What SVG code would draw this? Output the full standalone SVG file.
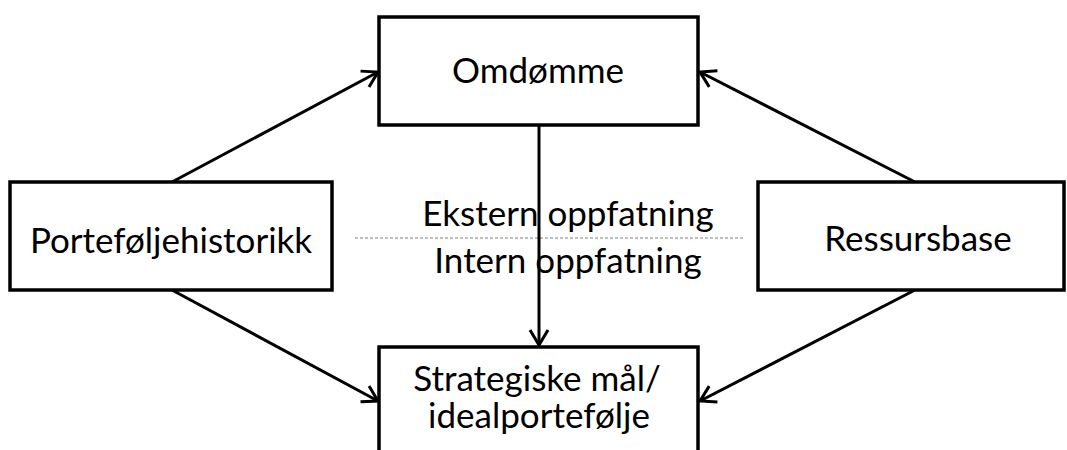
<svg xmlns="http://www.w3.org/2000/svg" width="1067" height="450" viewBox="0 0 1067 450">
  <style>
    .box { fill: #ffffff; stroke: #000000; stroke-width: 3.5; }
    .label { font-family: "Lato", "Liberation Sans", sans-serif; font-size: 35px; fill: #000000; text-anchor: middle; }
    .edge { fill: none; stroke: #000000; stroke-width: 3; marker-end: url(#arrow); }
    .divider { stroke: #808080; stroke-width: 1; stroke-dasharray: 3 2; }
  </style>
  <defs>
    <marker id="arrow" viewBox="0 0 24 24" refX="21" refY="12" markerWidth="24" markerHeight="24" markerUnits="userSpaceOnUse" orient="auto">
      <path d="M6,3 L21,12 L6,21" fill="none" stroke="#000000" stroke-width="3"/>
    </marker>
  </defs>

  <rect width="1067" height="450" fill="#ffffff"/>

  <!-- dotted boundary between external and internal perception -->
  <line class="divider" x1="355" y1="238" x2="744" y2="238"/>
  <text class="label" x="568" y="226">Ekstern oppfatning</text>
  <text class="label" x="568" y="273">Intern oppfatning</text>

  <g id="connectors">
    <line class="edge" x1="172" y1="182" x2="378" y2="72"/>
    <line class="edge" x1="172" y1="290" x2="378" y2="401"/>
    <line class="edge" x1="915" y1="182" x2="700" y2="72"/>
    <line class="edge" x1="915" y1="290" x2="700" y2="401"/>
    <line class="edge" x1="539" y1="125" x2="539" y2="345"/>
  </g>

  <g id="omdomme">
    <rect class="box" x="379" y="17" width="319" height="108"/>
    <text class="label" x="538" y="83">Omdømme</text>
  </g>

  <g id="portefoljehistorikk">
    <rect class="box" x="10" y="182" width="322" height="108"/>
    <text class="label" x="171" y="253">Porteføljehistorikk</text>
  </g>

  <g id="ressursbase">
    <rect class="box" x="758" y="182" width="306" height="108"/>
    <text class="label" x="918" y="251">Ressursbase</text>
  </g>

  <g id="strategiske-mal">
    <rect class="box" x="379" y="347" width="319" height="110"/>
    <text class="label" x="537" y="391">Strategiske mål/</text>
    <text class="label" x="539" y="428">idealportefølje</text>
  </g>
</svg>
